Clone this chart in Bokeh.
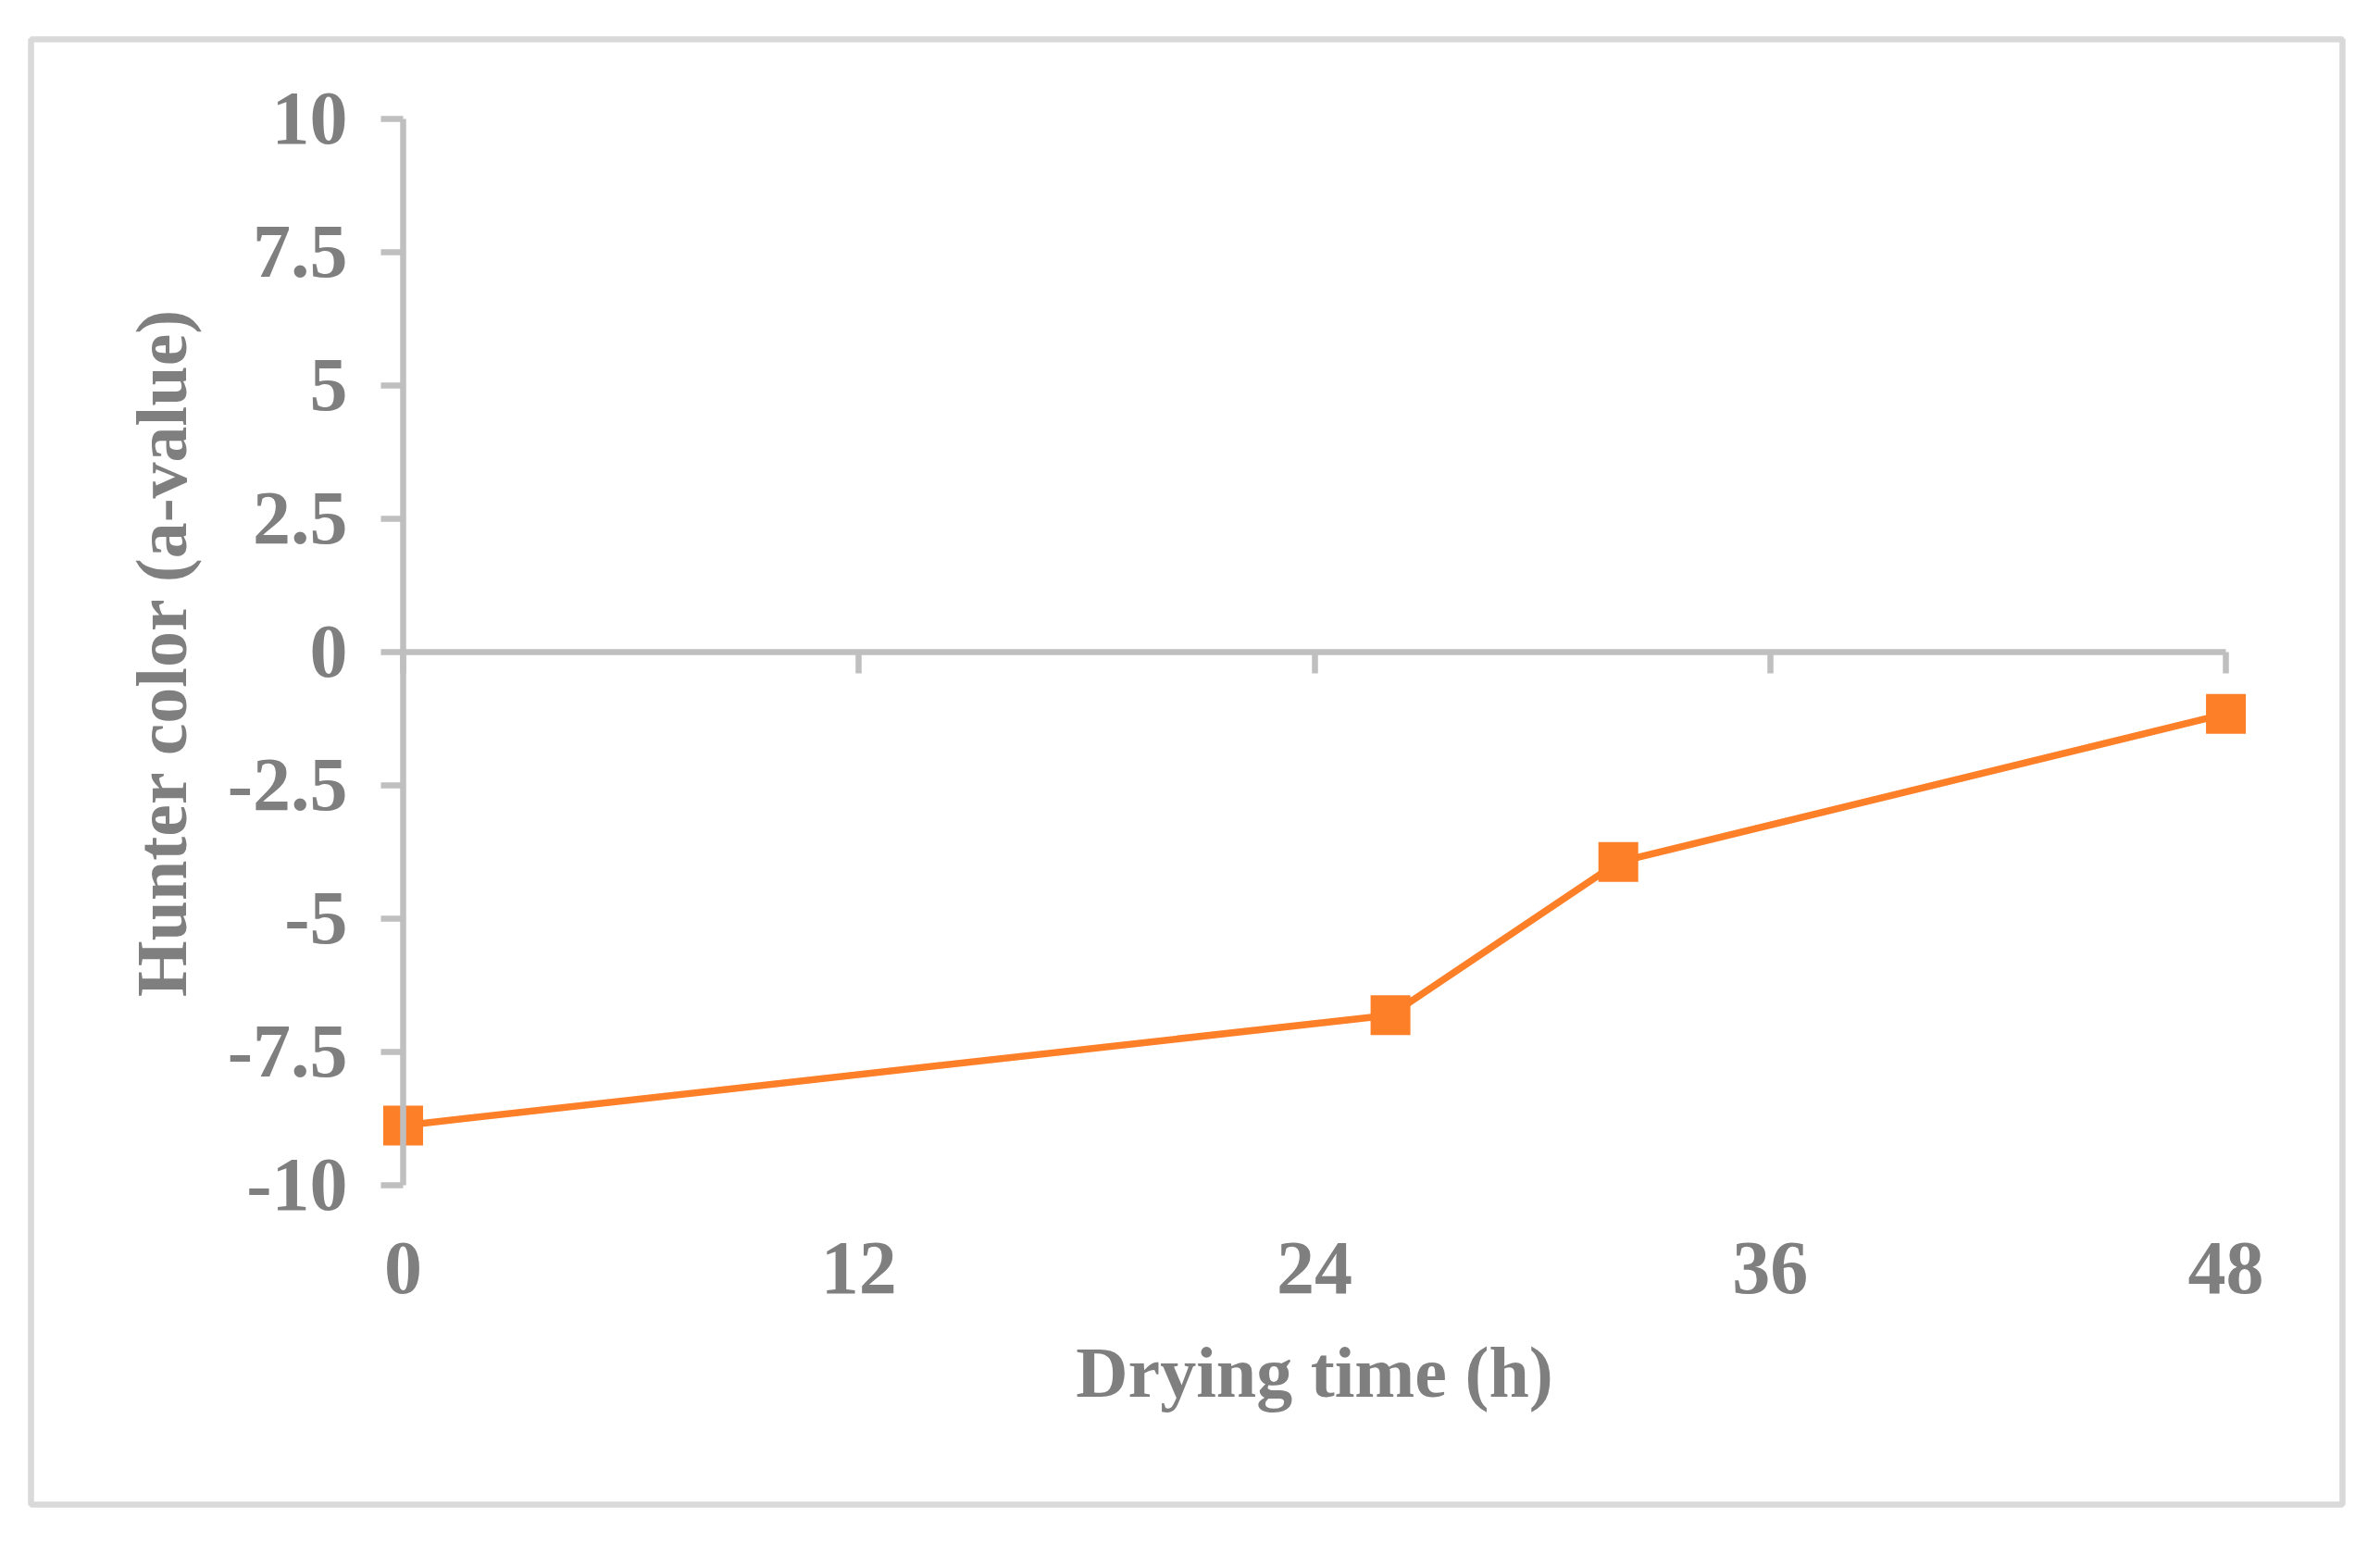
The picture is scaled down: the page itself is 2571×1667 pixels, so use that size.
from bokeh.plotting import figure
from bokeh.models import LinearAxis, FixedTicker, Range1d
from bokeh.embed import file_html
from bokeh.resources import INLINE

# ---- data ----
drying_time = [0, 26, 32, 48]
a_value = [-8.88, -6.81, -3.94, -1.16]

x_ticks = [0, 12, 24, 36, 48]
x_tick_labels = ["0", "12", "24", "36", "48"]
y_ticks = [-10, -7.5, -5, -2.5, 0, 2.5, 5, 7.5, 10]
y_tick_labels = ["-10", "-7.5", "-5", "-2.5", "0", "2.5", "5", "7.5", "10"]

x_title = "Drying time (h)"
y_title = "Hunter color (a-value)"

# ---- style ----
TEXT = "#7f7f7f"
AXIS = "#bfbfbf"
ORANGE = "#fd7f28"
FONT = "Liberation Serif"

p = figure(frame_width=2497, frame_height=1583,
           min_border_left=33, min_border_top=42,
           min_border_right=12, min_border_bottom=12,
           x_axis_type=None, y_axis_type=None,
           x_range=Range1d(-9.80, 51.07), y_range=Range1d(-15.99, 11.49),
           toolbar_location=None, output_backend="svg")
p.xgrid.visible = False
p.ygrid.visible = False
p.outline_line_color = "#d9d9d9"
p.outline_line_width = 6.5
p.background_fill_color = "white"
p.border_fill_color = "white"

# y axis at x = 0
yax = LinearAxis(fixed_location=0, bounds=(-10, 10),
                 ticker=FixedTicker(ticks=y_ticks),
                 major_label_overrides={t: s for t, s in zip(y_ticks, y_tick_labels)})
yax.axis_line_color = AXIS
yax.axis_line_width = 6.5
yax.major_tick_line_color = AXIS
yax.major_tick_line_width = 6.5
yax.major_tick_out = 24
yax.major_tick_in = 0
yax.minor_tick_line_color = None
yax.major_label_standoff = 36
yax.major_label_text_font = FONT
yax.major_label_text_font_style = "bold"
yax.major_label_text_font_size = "82px"
yax.major_label_text_color = TEXT
yax.axis_label = y_title
yax.axis_label_standoff = 25
yax.axis_label_text_font = FONT
yax.axis_label_text_font_style = "bold"
yax.axis_label_text_font_size = "78px"
yax.axis_label_text_color = TEXT
p.add_layout(yax, "left")

# x axis line and ticks at y = 0
xax0 = LinearAxis(fixed_location=0, bounds=(0, 48),
                  ticker=FixedTicker(ticks=x_ticks),
                  major_label_overrides={t: "" for t in x_ticks})
xax0.axis_line_color = AXIS
xax0.axis_line_width = 6.5
xax0.major_tick_line_color = AXIS
xax0.major_tick_line_width = 6.5
xax0.major_tick_out = 23
xax0.major_tick_in = 0
xax0.minor_tick_line_color = None
xax0.major_label_text_font_size = "0px"
p.add_layout(xax0, "below")

# x labels at the bottom (y = -10)
xax = LinearAxis(fixed_location=-10, bounds=(0, 48),
                 ticker=FixedTicker(ticks=x_ticks),
                 major_label_overrides={t: s for t, s in zip(x_ticks, x_tick_labels)})
xax.axis_line_color = None
xax.major_tick_line_color = None
xax.minor_tick_line_color = None
xax.major_tick_out = 0
xax.major_tick_in = 0
xax.major_label_standoff = 63
xax.major_label_text_font = FONT
xax.major_label_text_font_style = "bold"
xax.major_label_text_font_size = "82px"
xax.major_label_text_color = TEXT
xax.axis_label = x_title
xax.axis_label_standoff = 38
xax.axis_label_text_font = FONT
xax.axis_label_text_font_style = "bold"
xax.axis_label_text_font_size = "78px"
xax.axis_label_text_color = TEXT
p.add_layout(xax, "below")

p.line(drying_time, a_value, line_color=ORANGE, line_width=7.5)
p.scatter(drying_time, a_value, marker="square", size=43,
          fill_color=ORANGE, line_color=ORANGE, line_width=0)

open("out.html", "w").write(file_html(p, INLINE))
